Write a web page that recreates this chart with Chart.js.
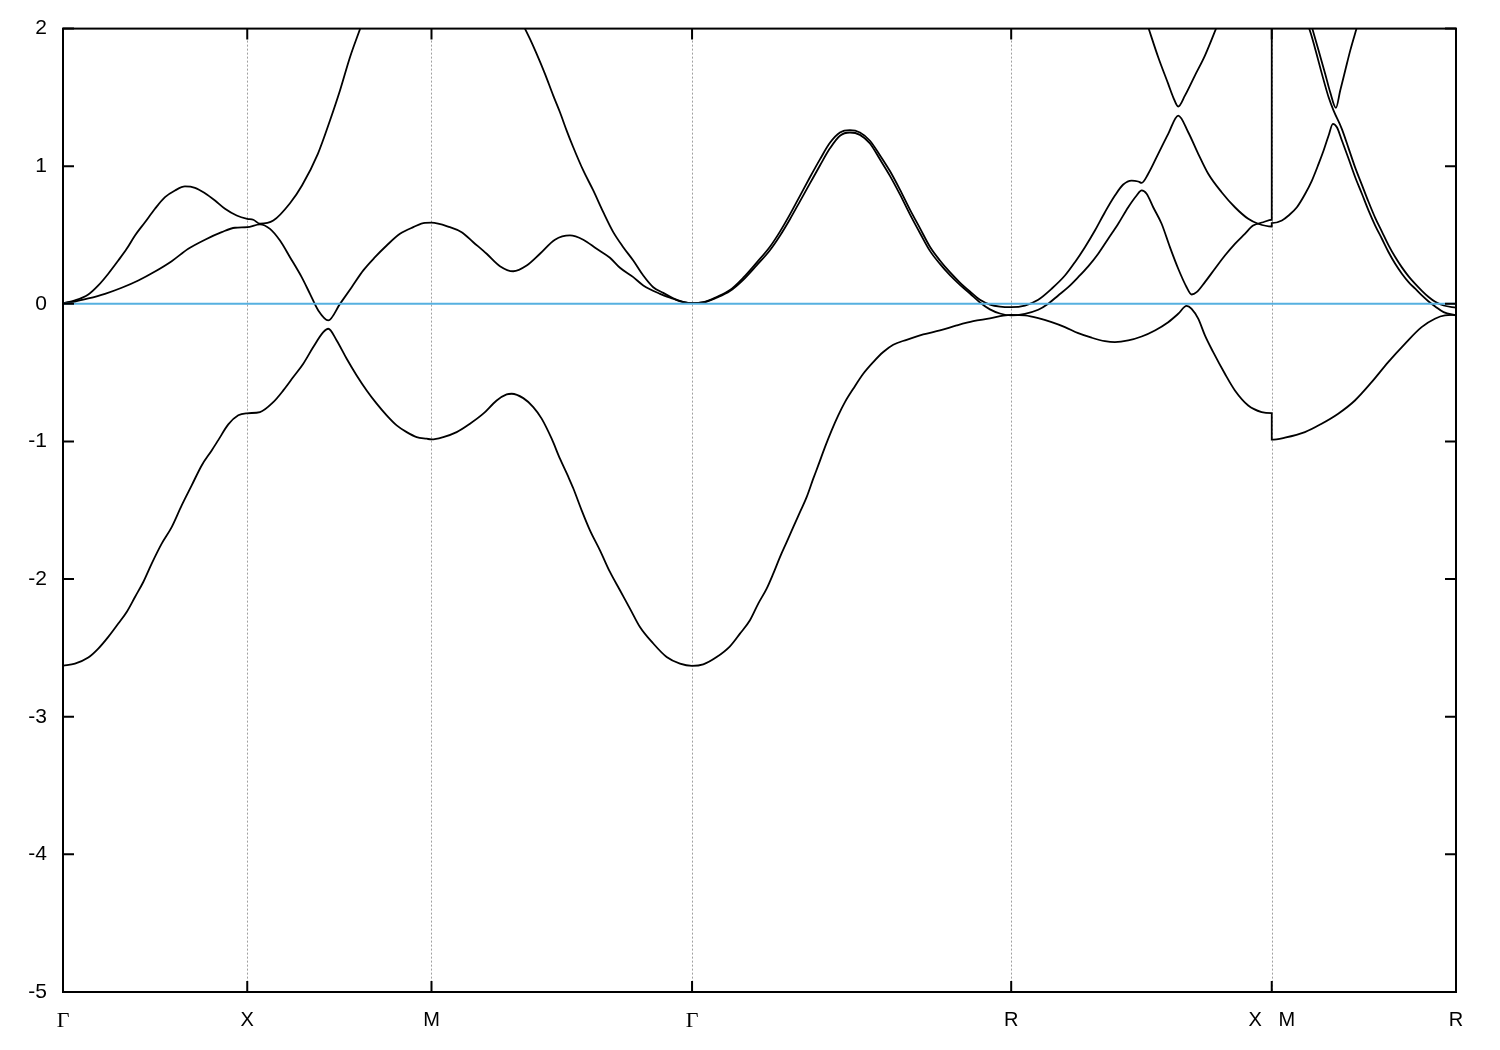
<!DOCTYPE html>
<html>
<head>
<meta charset="utf-8">
<script src="https://cdn.jsdelivr.net/npm/chart.js@4.4.1/dist/chart.umd.min.js"></script>
<style>
  html, body { margin: 0; padding: 0; background: #fff; }
  #wrap { width: 1500px; height: 1050px; position: relative; }
</style>
</head>
<body>
<div id="wrap"><canvas id="bands"></canvas></div>
<script>
// high symmetry points along the k path (path length units, Γ-X = 1)
const kPoints = [0, 1, 2, 3.4142, 5.1463, 6.5605, 7.5605];
const kLabels = ["Γ", "X", "M", "Γ", "R", "X   M", "R"];
const energyTicks = [2, 1, 0, -1, -2, -3, -4, -5];
const fermiLevel = 0;

// bands, [k, E]; null = above the window
const band1 = [
  [0,-2.63],[0.0651,-2.614],[0.1373,-2.57],[0.1916,-2.505],[0.2458,-2.42],[0.3001,-2.323],[0.3457,-2.239],[0.3908,-2.13],
  [0.4358,-2.021],[0.4814,-1.887],[0.5357,-1.742],[0.5899,-1.622],[0.6442,-1.464],[0.6985,-1.319],[0.7527,-1.174],[0.807,-1.065],
  [0.8428,-0.99],[0.8971,-0.876],[0.9514,-0.81],[1,-0.795],
  [1.0691,-0.786],[1.1413,-0.714],[1.1956,-0.629],[1.2499,-0.532],[1.3041,-0.435],[1.3584,-0.314],[1.4127,-0.206],[1.4398,-0.181],
  [1.4854,-0.266],[1.5397,-0.399],[1.5939,-0.52],[1.6482,-0.629],[1.7025,-0.725],[1.7567,-0.81],[1.811,-0.883],[1.8653,-0.932],
  [1.9196,-0.968],[1.9738,-0.98],[2,-0.985],
  [2.0639,-0.968],[2.1366,-0.932],[2.2088,-0.871],[2.281,-0.798],[2.3537,-0.702],[2.408,-0.658],[2.4351,-0.653],[2.4981,-0.685],
  [2.5524,-0.75],[2.5979,-0.834],[2.6522,-0.98],[2.6973,-1.125],[2.7423,-1.256],[2.7694,-1.34],[2.815,-1.5],[2.8601,-1.646],
  [2.9144,-1.791],[2.9686,-1.948],[3.0229,-2.081],[3.0772,-2.214],[3.1314,-2.348],[3.2036,-2.468],[3.2763,-2.566],[3.3485,-2.614],
  [3.4142,-2.63],
  [3.475,-2.619],[3.5477,-2.566],[3.6199,-2.488],[3.6742,-2.396],[3.7284,-2.299],[3.7735,-2.178],[3.8191,-2.069],[3.8549,-1.96],
  [3.8913,-1.84],[3.9276,-1.731],[3.9634,-1.622],[3.9998,-1.513],[4.0361,-1.404],[4.072,-1.27],[4.0991,-1.174],[4.1355,-1.041],
  [4.1718,-0.919],[4.2077,-0.81],[4.244,-0.714],[4.2891,-0.617],[4.3433,-0.508],[4.3976,-0.423],[4.4519,-0.35],[4.5061,-0.297],
  [4.5789,-0.261],[4.669,-0.222],[4.7596,-0.193],[4.8502,-0.157],[4.9403,-0.126],[5.0309,-0.106],[5.1031,-0.086],[5.1463,-0.08],
  [5.2209,-0.084],[5.2931,-0.104],[5.3658,-0.133],[5.438,-0.169],[5.5102,-0.213],[5.5829,-0.246],[5.655,-0.271],[5.7093,-0.278],
  [5.7815,-0.266],[5.8542,-0.237],[5.9264,-0.193],[5.9986,-0.133],[6.0529,-0.072],[6.0985,-0.015],[6.1256,-0.036],[6.1614,-0.108],
  [6.1978,-0.229],[6.2428,-0.351],[6.3063,-0.508],[6.3606,-0.629],[6.4328,-0.738],[6.5055,-0.786],[6.5605,-0.794],
  [6.5605,-0.987],[6.6319,-0.972],[6.7405,-0.932],[6.8311,-0.871],[6.9212,-0.798],[7.0118,-0.702],[7.1025,-0.569],[7.1926,-0.423],
  [7.2832,-0.29],[7.3738,-0.169],[7.446,-0.108],[7.5002,-0.084],[7.5605,-0.08]
];

const band2 = [
  [0,0.005],[0.0651,0.017],[0.1373,0.039],[0.2279,0.073],[0.3186,0.117],[0.4087,0.17],[0.4993,0.235],[0.5899,0.31],
  [0.68,0.4],[0.7706,0.466],[0.8613,0.521],[0.9335,0.553],[1,0.557],
  [1.0691,0.578],[1.1234,0.545],[1.1777,0.46],[1.232,0.339],[1.2954,0.194],[1.3405,0.073],[1.3855,-0.048],[1.4398,-0.12],
  [1.5033,0],[1.5668,0.121],[1.6298,0.243],[1.6933,0.339],[1.7567,0.424],[1.8289,0.509],[1.9011,0.557],[1.9646,0.589],[2,0.59],
  [2.1003,0.557],[2.1638,0.521],[2.2268,0.448],[2.2995,0.364],[2.3716,0.274],[2.4438,0.237],[2.5166,0.279],[2.5887,0.364],
  [2.6701,0.466],[2.7515,0.497],[2.8237,0.466],[2.8964,0.4],[2.9686,0.335],[3.0229,0.262],[3.0951,0.194],[3.1494,0.134],
  [3.24,0.073],[3.3122,0.037],[3.3664,0.012],[3.4142,0.005],
  [3.475,0.01],[3.5477,0.045],[3.6199,0.093],[3.6921,0.175],[3.7648,0.28],[3.837,0.39],[3.8913,0.495],[3.9455,0.615],
  [3.9998,0.745],[4.054,0.875],[4.1083,1.005],[4.1626,1.13],[4.2169,1.222],[4.2711,1.245],[4.3254,1.228],[4.3797,1.165],
  [4.4339,1.05],[4.4882,0.93],[4.5425,0.795],[4.5968,0.65],[4.651,0.515],[4.7053,0.385],[4.7596,0.29],[4.8138,0.208],
  [4.8681,0.138],[4.9224,0.075],[4.9767,0.01],[5.0309,-0.04],[5.0852,-0.07],[5.1463,-0.084],
  [5.2209,-0.072],[5.2931,-0.043],[5.3473,0.001],[5.4016,0.061],[5.4559,0.121],[5.5102,0.194],[5.5644,0.272],[5.6187,0.364],
  [5.673,0.473],[5.7273,0.582],[5.7815,0.702],[5.8271,0.787],[5.8542,0.824],[5.8813,0.8],[5.9171,0.702],[5.9627,0.582],
  [6.0078,0.412],[6.0529,0.255],[6.0985,0.121],[6.1256,0.068],[6.1527,0.085],[6.1978,0.158],[6.2519,0.255],[6.3063,0.351],
  [6.3606,0.436],[6.4147,0.509],[6.4593,0.569],[6.5144,0.593],[6.5605,0.611],
  [6.5605,2.3],[6.7605,2.01],[6.7963,1.852],[6.8327,1.671],[6.8691,1.501],[6.8962,1.404],[6.9412,1.27],[6.9776,1.13],
  [7.0134,0.99],[7.0498,0.865],[7.0861,0.74],[7.122,0.625],[7.1583,0.525],[7.1947,0.425],[7.2305,0.34],[7.2669,0.265],
  [7.3032,0.2],[7.3391,0.145],[7.3754,0.095],[7.4118,0.05],[7.4476,0.015],[7.4932,-0.012],[7.5605,-0.028]
];

const band3 = [
  [0,0.005],[0.0651,0.025],[0.1373,0.068],[0.1916,0.134],[0.2458,0.219],[0.3001,0.315],[0.3457,0.4],[0.3908,0.497],
  [0.445,0.593],[0.4993,0.691],[0.5536,0.775],[0.6078,0.824],[0.6621,0.853],[0.7164,0.843],[0.7706,0.804],[0.8249,0.751],
  [0.8792,0.691],[0.9427,0.642],[1,0.618],
  [1.0328,0.611],[1.0691,0.582],[1.1413,0.605],[1.232,0.731],[1.2971,0.86],[1.3839,1.092],[1.449,1.332],[1.5033,1.55],
  [1.5576,1.792],[1.6157,2.01],
  [2,null],
  [2.5035,2.01],[2.5344,1.925],[2.5708,1.816],[2.6159,1.671],[2.6609,1.513],[2.6973,1.392],[2.7336,1.259],[2.7694,1.138],
  [2.8237,0.969],[2.878,0.824],[2.9323,0.666],[2.9865,0.521],[3.0408,0.412],[3.0951,0.315],[3.1494,0.206],[3.2036,0.121],
  [3.2579,0.08],[3.3122,0.04],[3.3664,0.015],[3.4142,0.005],
  [3.475,0.012],[3.5477,0.05],[3.6199,0.1],[3.6921,0.19],[3.7648,0.3],[3.837,0.415],[3.8913,0.525],[3.9455,0.65],
  [3.9998,0.785],[4.054,0.92],[4.1083,1.05],[4.1626,1.17],[4.2169,1.245],[4.2711,1.262],[4.3254,1.245],[4.3797,1.185],
  [4.4339,1.08],[4.4882,0.965],[4.5425,0.83],[4.5968,0.685],[4.651,0.55],[4.7053,0.415],[4.7596,0.315],[4.8138,0.23],
  [4.8681,0.155],[4.9224,0.09],[4.9767,0.03],[5.0309,-0.005],[5.0852,-0.02],[5.1463,-0.024],
  [5.2209,-0.012],[5.2931,0.03],[5.3658,0.11],[5.438,0.206],[5.4923,0.303],[5.5465,0.412],[5.6008,0.533],[5.655,0.666],
  [5.7093,0.787],[5.7544,0.867],[5.7999,0.896],[5.8358,0.889],[5.8542,0.879],[5.89,0.945],[5.9443,1.09],[5.9986,1.235],
  [6.0529,1.368],[6.1072,1.247],[6.1614,1.09],[6.2157,0.945],[6.2884,0.811],[6.3606,0.702],[6.4328,0.618],[6.487,0.582],
  [6.5605,0.562],
  [6.5605,0.586],[6.6156,0.606],[6.652,0.642],[6.697,0.702],[6.7421,0.8],[6.7785,0.896],[6.8148,1.017],[6.8419,1.114],
  [6.8691,1.223],[6.8924,1.308],[6.9141,1.283],[6.9412,1.187],[6.9776,1.054],[7.0134,0.92],[7.0498,0.8],[7.0861,0.678],
  [7.122,0.569],[7.1583,0.473],[7.1947,0.375],[7.2305,0.291],[7.2669,0.219],[7.3032,0.158],[7.3391,0.11],[7.3754,0.061],
  [7.4118,0.017],[7.4476,-0.019],[7.4932,-0.06],[7.5605,-0.084]
];

const band4 = [
  [5.89,2.01],[5.9443,1.792],[5.9986,1.598],[6.0258,1.501],[6.0529,1.434],[6.0892,1.513],[6.1433,1.659],[6.1978,1.804],
  [6.2612,2.01],
  [6.5605,null],
  [6.7785,2.01],[6.8148,1.84],[6.8507,1.671],[6.8778,1.537],[6.9087,1.424],[6.9321,1.55],[6.9592,1.695],[6.9863,1.84],
  [7.0227,2.01]
];

const toPts = band => band.map(([k, e]) => ({ x: k, y: e }));

const bandStyle = {
  borderColor: "#000",
  borderWidth: 1.8,
  pointRadius: 0,
  cubicInterpolationMode: "monotone",
  spanGaps: false,
  clip: 0
};

// dotted verticals at the symmetry points + gnuplot style inward ticks and frame
const gnuFrame = {
  id: "gnuFrame",
  beforeDatasetsDraw(chart) {
    const { ctx, chartArea: a, scales: { x } } = chart;
    ctx.save();
    ctx.strokeStyle = "#a0a0a0";
    ctx.lineWidth = 1;
    ctx.setLineDash([2, 2]);
    kPoints.forEach(k => {
      const px = Math.round(x.getPixelForValue(k)) + 0.5;
      if (px < a.left + 2 || px > a.right - 2) return;
      ctx.beginPath();
      ctx.moveTo(px, a.top);
      ctx.lineTo(px, a.bottom);
      ctx.stroke();
    });
    ctx.restore();
  },
  afterDatasetsDraw(chart) {
    const { ctx, chartArea: a, scales: { x, y } } = chart;
    ctx.save();
    ctx.strokeStyle = "#000";
    ctx.lineWidth = 2;
    ctx.beginPath();
    energyTicks.forEach(v => {
      const py = y.getPixelForValue(v);
      ctx.moveTo(a.left, py); ctx.lineTo(a.left + 11, py);
      ctx.moveTo(a.right, py); ctx.lineTo(a.right - 11, py);
    });
    kPoints.forEach(k => {
      const px = x.getPixelForValue(k);
      ctx.moveTo(px, a.bottom); ctx.lineTo(px, a.bottom - 11);
      ctx.moveTo(px, a.top); ctx.lineTo(px, a.top + 11);
    });
    ctx.stroke();
    ctx.strokeRect(a.left, a.top, a.right - a.left, a.bottom - a.top);
    ctx.restore();
  }
};

new Chart(document.getElementById("bands"), {
  type: "line",
  data: {
    datasets: [
      {
        data: [{ x: kPoints[0], y: fermiLevel }, { x: kPoints[kPoints.length - 1], y: fermiLevel }],
        borderColor: "#56b0e0", borderWidth: 2, pointRadius: 0, clip: 0
      },
      { ...bandStyle, data: toPts(band1) },
      { ...bandStyle, data: toPts(band2) },
      { ...bandStyle, data: toPts(band3) },
      { ...bandStyle, data: toPts(band4) }
    ]
  },
  options: {
    responsive: true,
    maintainAspectRatio: false,
    animation: false,
    layout: { padding: { top: 28, right: 44, bottom: 0, left: 0 } },
    plugins: { legend: { display: false }, tooltip: { enabled: false } },
    scales: {
      x: {
        type: "linear",
        min: 0,
        max: kPoints[kPoints.length - 1],
        afterBuildTicks: s => { s.ticks = kPoints.map(v => ({ value: v })); },
        afterFit: s => { s.height = 58; },
        grid: { display: false, drawTicks: false },
        border: { display: false },
        ticks: {
          autoSkip: false,
          maxRotation: 0,
          padding: 16,
          color: "#000",
          callback: (v, i) => kLabels[i],
          font: ctx => (kLabels[ctx.index] === "Γ"
            ? { family: "'Liberation Serif', serif", size: 22 }
            : { family: "'Liberation Sans', Arial, sans-serif", size: 20 })
        }
      },
      y: {
        min: -5,
        max: 2,
        afterBuildTicks: s => { s.ticks = energyTicks.map(v => ({ value: v })); },
        afterFit: s => { s.width = 63; },
        grid: { display: false, drawTicks: false },
        border: { display: false },
        ticks: {
          padding: 16,
          color: "#000",
          font: { family: "'Liberation Sans', Arial, sans-serif", size: 21 }
        }
      }
    }
  },
  plugins: [gnuFrame]
});
</script>
</body>
</html>
